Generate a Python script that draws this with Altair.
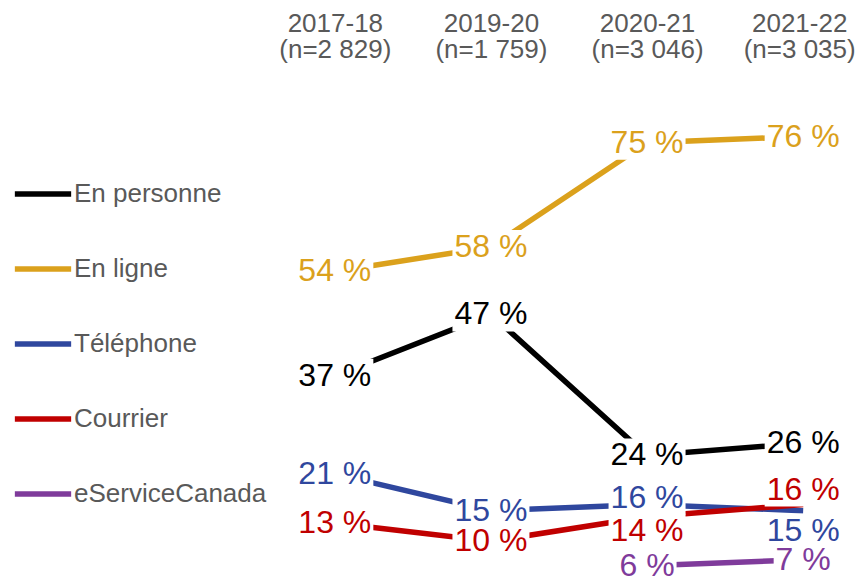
import altair as alt
import pandas as pd

# ---- data ----
periods = ["2017-18", "2019-20", "2020-21", "2021-22"]
sample_sizes = ["(n=2 829)", "(n=1 759)", "(n=3 046)", "(n=3 035)"]
series = ["En personne", "En ligne", "Téléphone", "Courrier", "eServiceCanada"]
colors = ["#000000", "#DBA11C", "#2F479E", "#C00000", "#7F3B9B"]

en_personne = [37, 47, 24, 26]
en_ligne = [54, 58, 75, 76]
telephone = [21, 15, 16, 15]
courrier = [13, 10, 14, 16]
eservicecanada = [None, None, 6, 7]

values = [en_personne, en_ligne, telephone, courrier, eservicecanada]

# label nudges (pixels, + = down) so overlapping labels stay readable
label_nudge = {
    ("Téléphone", "2020-21"): -7,
    ("Téléphone", "2021-22"): 20,
    ("Courrier", "2020-21"): 14,
    ("Courrier", "2021-22"): -15,
}

# ---- layout ----
W, H = 562, 460
YMIN, YMAX = 5, 80
PX_PER_UNIT = H / (YMAX - YMIN)
FONT = "Liberation Sans"
GREY = "#595959"
LABEL_SIZE = 32

cats = [f"{p}|{n}" for p, n in zip(periods, sample_sizes)]

rows = []
for s, vals in zip(series, values):
    for p, c, v in zip(periods, cats, vals):
        if v is None:
            continue
        lab = f"{v} %"
        nudge = label_nudge.get((s, p), 0)
        hw = 0.77 if len(lab) > 3 else 0.59
        rows.append({
            "serie": s,
            "periode": c,
            "valeur": v,
            "etiquette": lab,
            "pos_etiquette": v - nudge / PX_PER_UNIT,
            "boite": f"M{-hw},-0.34H{hw}V0.34H{-hw}Z",
        })
df = pd.DataFrame(rows)

x_enc = alt.X(
    "periode:N",
    sort=cats,
    scale=alt.Scale(type="point", padding=0.3),
    axis=alt.Axis(
        orient="top", domain=False, ticks=False, grid=False, title=None,
        labelAngle=0, labelFontSize=26, labelColor=GREY, labelFont=FONT,
        labelPadding=76, labelLineHeight=26,
        labelOffset={"condition": {"test": "datum.index === 1", "value": -4}, "value": 0},
        labelExpr="split(datum.label, '|')",
    ),
)
y_scale = alt.Scale(domain=[YMIN, YMAX], zero=False, nice=False)
color_scale = alt.Scale(domain=series, range=colors)

base = alt.Chart(df)

lines = base.mark_line(strokeWidth=5.5, strokeCap="butt").encode(
    x=x_enc,
    y=alt.Y("valeur:Q", scale=y_scale, axis=None),
    color=alt.Color(
        "serie:N", scale=color_scale, sort=series,
        legend=alt.Legend(
            title=None, orient="none", legendX=-276, legendY=51,
            symbolType="stroke", symbolSize=3170, symbolStrokeWidth=5.5,
            labelFontSize=26, labelFont=FONT, labelColor=GREY, labelLimit=400,
            labelOffset=0, rowPadding=31, padding=0,
        ),
    ),
    detail="serie:N",
)

boxes = base.mark_point(filled=True, color="white", opacity=1, strokeWidth=0, size=10000).encode(
    x=x_enc,
    y=alt.Y("pos_etiquette:Q", scale=y_scale, axis=None),
    shape=alt.Shape("boite:N", scale=None),
)

labels = base.mark_text(fontSize=LABEL_SIZE, font=FONT, baseline="middle", align="center").encode(
    x=x_enc,
    y=alt.Y("pos_etiquette:Q", scale=y_scale, axis=None),
    text="etiquette:N",
    color=alt.Color("serie:N", scale=color_scale, legend=None),
)

chart = alt.layer(lines, boxes, labels).properties(
    width=W, height=H,
    background="white",
    autosize=alt.AutoSizeParams(type="none"),
    padding={"left": 280, "top": 104, "right": 8, "bottom": 12},
).configure_view(stroke=None)

chart.save("out.html", embed_options={"renderer": "svg", "actions": False})
